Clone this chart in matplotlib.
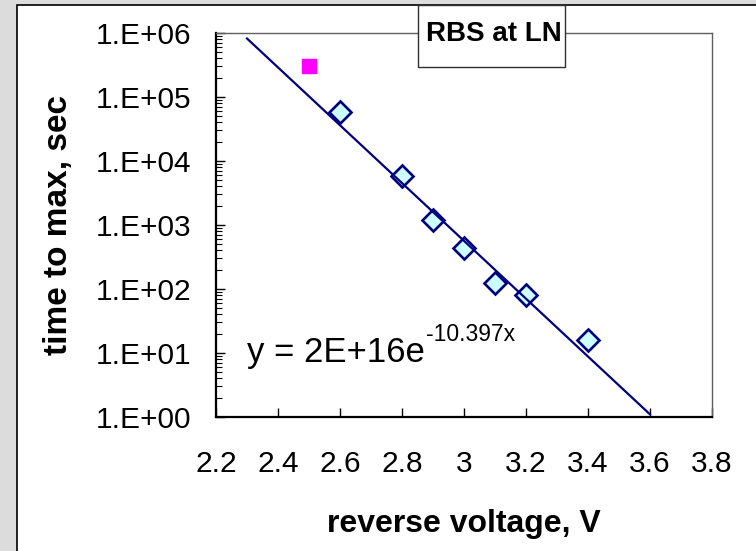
import matplotlib
matplotlib.use("Agg")
import matplotlib.pyplot as plt
from matplotlib.patches import Rectangle
from matplotlib.ticker import FixedLocator, FuncFormatter, LogLocator, NullLocator
import numpy as np

# measured points (diamonds)
voltage = [2.6, 2.8, 2.9, 3.0, 3.1, 3.2, 3.4]
time_max = [5.8e4, 5.8e3, 1.2e3, 4.3e2, 1.25e2, 8.0e1, 1.6e1]

# single extra point (magenta square)
extra_v = [2.5]
extra_t = [3.0e5]

# exponential trendline end points, y = 2E+16 exp(-10.397x)
trend_v = [2.3, 3.6]
trend_t = [8.2e5, 1.1]

xticks = [2.2, 2.4, 2.6, 2.8, 3.0, 3.2, 3.4, 3.6, 3.8]

plt.rcParams['font.family'] = ['Liberation Sans', 'DejaVu Sans']

W, H = 756, 551
fig = plt.figure(figsize=(W / 100, H / 100), dpi=100)
fig.patch.set_facecolor('#dcdcdc')

# white chart area with black border (runs off right/bottom edges)
panel = Rectangle((17 / W, -0.05), 1.1, 1 - 5 / H + 0.05, transform=fig.transFigure,
                  facecolor='white', edgecolor='black', linewidth=1.2, zorder=-5)
fig.add_artist(panel)

ax = fig.add_axes([216 / W, 1 - 417 / H, (712 - 216) / W, (417 - 33) / H])
ax.set_yscale('log')
ax.set_xlim(2.2, 3.8)
ax.set_ylim(1, 1e6)

ax.plot(voltage, time_max, linestyle='none', marker='D', markersize=11,
        markerfacecolor='#ccffff', markeredgecolor='#000080', markeredgewidth=1.9, zorder=3)
ax.plot(extra_v, extra_t, linestyle='none', marker='s', markersize=10,
        markerfacecolor='#ff00ff', markeredgecolor='#ff00ff', zorder=3)
ax.plot(trend_v, trend_t, color='#000080', linewidth=1.6, zorder=4)

ax.xaxis.set_major_locator(FixedLocator(xticks))
ax.xaxis.set_major_formatter(FuncFormatter(lambda v, p: f'{v:g}'))
ax.xaxis.set_minor_locator(NullLocator())
ax.yaxis.set_major_locator(FixedLocator([10.0 ** k for k in range(7)]))
ax.yaxis.set_major_formatter(FuncFormatter(lambda v, p: '1.E+%02d' % int(round(np.log10(v)))))
ax.yaxis.set_minor_locator(LogLocator(base=10, subs=np.arange(2, 10), numticks=20))

ax.tick_params(axis='x', direction='in', length=6.5, width=1, pad=24, labelsize=21.5, top=False)
ax.tick_params(axis='y', which='major', direction='in', length=6.5, width=1, pad=18,
               labelsize=21.5, right=False)
ax.tick_params(axis='y', which='minor', direction='in', length=4.3, width=0.8, right=False)

for side in ['bottom', 'left']:
    ax.spines[side].set_linewidth(1.6)
    ax.spines[side].set_color('black')
for side in ['top', 'right']:
    ax.spines[side].set_linewidth(1.0)
    ax.spines[side].set_color('#606060')

ax.set_xlabel('reverse voltage, V', fontsize=23, fontweight='bold', va='center')
ax.xaxis.set_label_coords(0.5, (417 - 524) / 384)
ax.set_ylabel('time to max, sec', fontsize=24, fontweight='bold', va='center')
ax.yaxis.set_label_coords((58 - 216) / 496, 0.5)

# trendline equation
eq = ax.text(2.3, 7.2, 'y = 2E+16e', fontsize=25, va='baseline', ha='left')
ax.annotate('-10.397x', xy=(1, 0), xycoords=eq, xytext=(0.5, 20.5), textcoords='offset points',
            fontsize=16.5, ha='left', va='baseline')

# boxed title overlapping the top edge
tbox = Rectangle((418 / W, 1 - 67 / H), 147 / W, 62 / H, transform=fig.transFigure,
                 facecolor='white', edgecolor='#303030', linewidth=1.0, zorder=5)
fig.add_artist(tbox)
fig.text(494 / W, 1 - 34 / H, 'RBS at LN', fontsize=20, fontweight='bold',
         ha='center', va='center', zorder=6)

fig.savefig('out.png', dpi=100, facecolor=fig.get_facecolor())
